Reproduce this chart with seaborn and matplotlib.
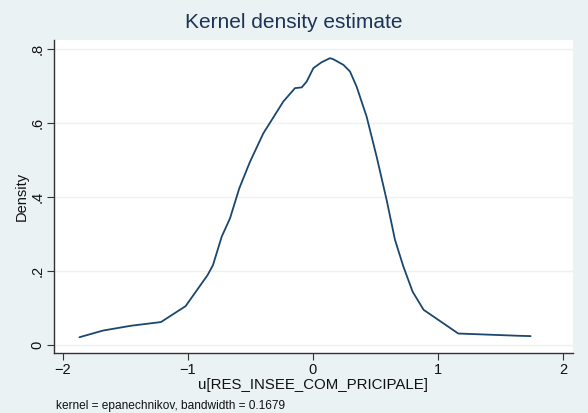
import pandas as pd
import matplotlib.pyplot as plt
import seaborn as sns

# density curve
u_vals = [-1.868, -1.68, -1.456, -1.216, -1.019, -0.843, -0.80, -0.73, -0.664, -0.59,
          -0.504, -0.397, -0.237, -0.144, -0.09, -0.05, 0.003, 0.069, 0.136, 0.163,
          0.243, 0.296, 0.349, 0.429, 0.509, 0.589, 0.656, 0.723, 0.797, 0.885,
          1.162, 1.636, 1.741]
density = [0.021, 0.039, 0.052, 0.062, 0.105, 0.189, 0.216, 0.293, 0.342, 0.423,
           0.495, 0.572, 0.658, 0.694, 0.696, 0.712, 0.748, 0.764, 0.775, 0.772,
           0.757, 0.739, 0.698, 0.617, 0.509, 0.392, 0.284, 0.212, 0.144, 0.095,
           0.031, 0.025, 0.024]

x_ticks = [-2, -1, 0, 1, 2]
x_labels = ["\u22122", "\u22121", "0", "1", "2"]
y_ticks = [0, 0.2, 0.4, 0.6, 0.8]
y_labels = ["0", ".2", ".4", ".6", ".8"]

df = pd.DataFrame({"u": u_vals, "density": density})

sns.set_theme(style="white")
plt.rcParams["font.family"] = ["Liberation Sans", "DejaVu Sans"]

bg = "#EAF2F3"
navy = "#1A476F"

fig = plt.figure(figsize=(5.88, 4.13), dpi=100, facecolor=bg)
ax = fig.add_axes([0.0918, 0.1453, 0.8827, 0.7578])
ax.set_facecolor("white")

for t in y_ticks:
    ax.axhline(t, color="#EAF2F3", lw=1.0, zorder=0)

sns.lineplot(data=df, x="u", y="density", color=navy, lw=1.3, ax=ax)

ax.set_xlim(-2.072, 2.08)
ax.set_ylim(-0.0216, 0.824)
ax.set_xticks(x_ticks)
ax.set_xticklabels(x_labels, fontsize=10.5, color="#111111")
ax.set_yticks(y_ticks)
ax.set_yticklabels(y_labels, fontsize=10.5, color="#111111", rotation=90, va="center")

for side in ["top", "right"]:
    ax.spines[side].set_visible(False)
for side in ["left", "bottom"]:
    ax.spines[side].set_color("#333333")
    ax.spines[side].set_linewidth(1.0)
ax.tick_params(axis="both", direction="out", length=5, width=0.8, color="#333333",
               left=True, bottom=True, pad=2)

ax.set_xlabel("u[RES_INSEE_COM_PRICIPALE]", fontsize=10.8, color="#111111", labelpad=1)
ax.set_ylabel("Density", fontsize=10.5, color="#111111", labelpad=1)

fig.text(0.5, 0.945, "Kernel density estimate", ha="center", va="center",
         fontsize=15, color="#1E3356")
fig.text(0.095, 0.018, "kernel = epanechnikov, bandwidth = 0.1679", ha="left",
         va="center", fontsize=8.6, color="#111111")

plt.savefig("out.png", dpi=100, facecolor=bg)
